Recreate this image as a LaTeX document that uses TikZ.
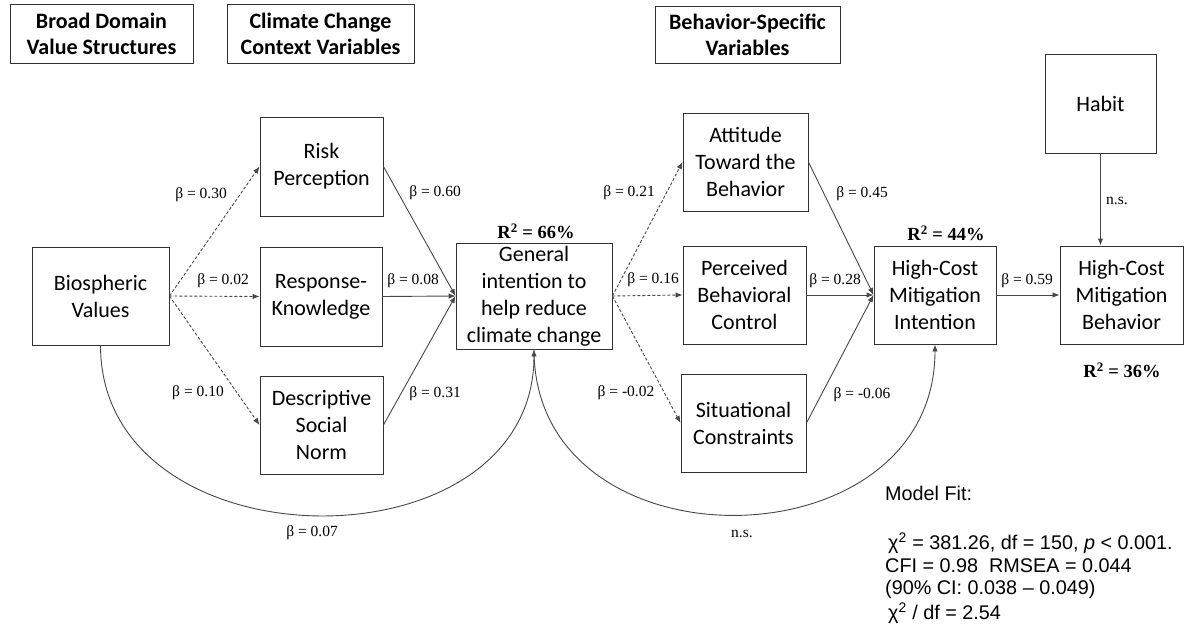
\documentclass[tikz,border=0pt]{standalone}
\usepackage{fontspec}
\setmainfont{Carlito}
\newfontfamily\coeffont{Liberation Serif}
\newfontfamily\fitfont{Liberation Sans}
\usetikzlibrary{arrows.meta}

\begin{document}
\begin{tikzpicture}[x=1pt,y=-1pt,
  box/.style={draw=black!80, line width=0.9pt, align=center, inner sep=0pt,
    font=\fontsize{22}{27}\selectfont},
  headbox/.style={box, font=\fontsize{22}{26}\selectfont\bfseries},
  coef/.style={font=\coeffont\fontsize{15.5}{17}\selectfont, inner sep=0pt},
  rsq/.style={font=\coeffont\fontsize{18.5}{20}\selectfont\bfseries, inner sep=0pt},
  fitline/.style={anchor=west, inner sep=0pt, font=\fitfont\fontsize{19.8}{22}\selectfont},
  solidarrow/.style={draw=black!72, line width=0.9pt, -{Latex[length=7pt,width=5.5pt]}},
  dasharrow/.style={solidarrow, dash pattern=on 3pt off 2pt},
]
\useasboundingbox (0,0) rectangle (1187,626);

% column headings
\node[headbox, minimum width=183pt, minimum height=59pt] (h1) at (101.5,33.5) {Broad Domain\\Value Structures};
\node[headbox, minimum width=187pt, minimum height=59pt] (h2) at (320.5,33.5) {Climate Change\\Context Variables};
\node[headbox, minimum width=185pt, minimum height=57pt] (h3) at (747.5,34.5) {Behavior-Specific\\Variables};

% constructs
\node[box, minimum width=137pt, minimum height=98pt] (bio) at (100.5,296) {Biospheric\\Values};
\node[box, minimum width=123pt, minimum height=99pt] (risk) at (321.5,166.5) {Risk\\Perception};
\node[box, minimum width=122pt, minimum height=99pt] (resp) at (321,296.5) {Response-\\Knowledge};
\node[box, minimum width=123pt, minimum height=98pt] (desc) at (321.5,425) {Descriptive\\Social\\Norm};
\node[box, minimum width=156pt, minimum height=106pt] (gen) at (534,296) {General\\intention to\\help reduce\\climate change};
\node[box, minimum width=125pt, minimum height=98pt] (att) at (745.5,162) {Attitude\\Toward the\\Behavior};
\node[box, minimum width=123pt, minimum height=98pt] (pbc) at (744.5,295) {Perceived\\Behavioral\\Control};
\node[box, minimum width=125pt, minimum height=98pt] (sit) at (743.5,423) {Situational\\Constraints};
\node[box, minimum width=122pt, minimum height=98pt] (hci) at (935,295) {High-Cost\\Mitigation\\Intention};
\node[box, minimum width=123pt, minimum height=98pt] (hcb) at (1121.5,295) {High-Cost\\Mitigation\\Behavior};
\node[box, minimum width=111pt, minimum height=99pt] (habit) at (1100.5,103.5) {Habit};

% paths
\draw[dasharrow] (bio.east) -- (risk.west);
\draw[dasharrow] (bio.east) -- (resp.west);
\draw[dasharrow] (bio.east) -- (desc.west);
\draw[solidarrow] (risk.east) -- (gen.west);
\draw[solidarrow] (resp.east) -- (gen.west);
\draw[solidarrow] (desc.east) -- (gen.west);
\draw[dasharrow] (gen.east) -- (att.west);
\draw[dasharrow] (gen.east) -- (pbc.west);
\draw[dasharrow] (gen.east) -- (sit.west);
\draw[solidarrow] (att.east) -- (hci.west);
\draw[solidarrow] (pbc.east) -- (hci.west);
\draw[solidarrow] (sit.east) -- (hci.west);
\draw[solidarrow] (hci.east) -- (hcb.west);
\coordinate (habitin) at (habit.south |- hcb.north);
\draw[solidarrow] (habit.south) -- (habitin);
\draw[solidarrow] (bio.south) .. controls (100.5,569) and (534,573) .. (gen.south);
\draw[solidarrow] (gen.south) .. controls (534,573) and (935,568) .. (hci.south);

% path coefficients
\node[coef] (c1) at (201,195) {β = 0.30};
\node[coef] (c2) at (223,281) {β = 0.02};
\node[coef] (c3) at (198,393) {β = 0.10};
\node[coef] (c4) at (435,193) {β = 0.60};
\node[coef] (c5) at (413,281) {β = 0.08};
\node[coef] (c6) at (435,394) {β = 0.31};
\node[coef] (c7) at (629,193) {β = 0.21};
\node[coef] (c8) at (653,280) {β = 0.16};
\node[coef] (c9) at (626,393) {β = -0.02};
\node[coef] (c10) at (862,194) {β = 0.45};
\node[coef] (c11) at (835,281) {β = 0.28};
\node[coef] (c12) at (862,395) {β = -0.06};
\node[coef] (c13) at (1027,281) {β = 0.59};
\node[coef] (c14) at (1117,201) {n.s.};
\node[coef] (c15) at (312,533) {β = 0.07};
\node[coef] (c16) at (742,534) {n.s.};

% explained variance
\node[rsq] (r1) at (536,231) {R\textsuperscript{2} = 66\%};
\node[rsq] (r2) at (946,233) {R\textsuperscript{2} = 44\%};
\node[rsq] (r3) at (1122,370) {R\textsuperscript{2} = 36\%};

% fit indices
\node[fitline] (fit0) at (885,493) {Model Fit:};
\node[fitline] (fit1) at (888,543) {χ\textsuperscript{2} = 381.26, df = 150, \textit{p} < 0.001.};
\node[fitline] (fit2) at (885,566) {CFI = 0.98\ \ RMSEA = 0.044};
\node[fitline] (fit3) at (885,589) {(90\% CI: 0.038 – 0.049)};
\node[fitline] (fit4) at (888,613) {χ\textsuperscript{2} / df = 2.54};
\end{tikzpicture}
\end{document}
